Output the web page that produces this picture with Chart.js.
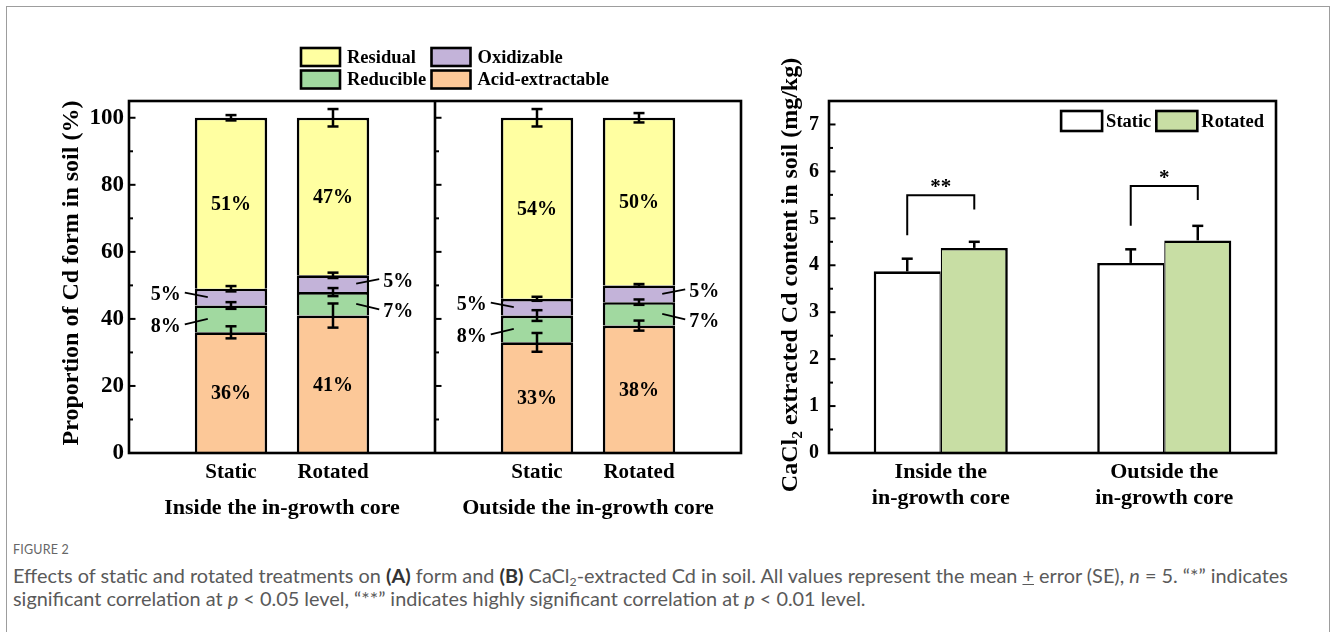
<!DOCTYPE html>
<html>
<head>
<meta charset="utf-8">
<script src="https://cdn.jsdelivr.net/npm/chart.js@4.4.1/dist/chart.umd.min.js"></script>
<style>
  html, body { margin: 0; padding: 0; background: #fff; width: 1330px; height: 632px; overflow: hidden; }
  #frame { position: absolute; left: 6px; top: 6px; width: 1324px; height: 700px; border: 1.5px solid #9d9d9d; box-sizing: border-box; }
  #cA { position: absolute; left: 0; top: 0; }
  #cB { position: absolute; left: 760px; top: 0; }
  #caption { position: absolute; left: 13px; top: 542px; color: #5a5a5a; font-family: Lato, 'Open Sans', sans-serif; white-space: nowrap; }
  #figno { font-size: 12.5px; letter-spacing: 0.2px; line-height: 16px; color: #666; }
  .line { font-size: 17px; line-height: 23px; }
  .line b { color: #333; }
  .line sub { font-size: 0.62em; vertical-align: -0.25em; line-height: 0; }
</style>
</head>
<body>
<div id="frame"></div>
<canvas id="cA" width="770" height="540"></canvas>
<canvas id="cB" width="570" height="540"></canvas>
<div id="caption">
  <div id="figno">FIGURE 2</div>
  <div class="line" id="l1" style="margin-top:6px">Effects of static and rotated treatments on <b>(A)</b> form and <b>(B)</b> CaCl<sub>2</sub>-extracted Cd in soil. All values represent the mean <u>+</u> error (SE), <i>n</i> = 5. “*” indicates</div>
  <div class="line" id="l2">significant correlation at <i>p</i> &lt; 0.05 level, “**” indicates highly significant correlation at <i>p</i> &lt; 0.01 level.</div>
</div>
<script>
// ---- Panel A: Cd fractions (% of total), order: Inside-Static, Inside-Rotated, Outside-Static, Outside-Rotated
const groups = ['Inside the in-growth core', 'Outside the in-growth core'];
const treatments = ['Static', 'Rotated'];
const acidExtractable = [36, 41, 33, 38];
const reducible = [8, 7, 8, 7];
const oxidizable = [5, 5, 5, 5];
const residual = [51, 47, 54, 50];
const acidSE = [1.8, 3.6, 2.8, 1.5];
const reducibleSE = [1.0, 1.2, 1.6, 0.8];
const oxidizableSE = [0.8, 0.8, 0.6, 0.4];
const residualSE = [0.8, 2.6, 2.6, 1.4];
const fractionTicks = [0, 20, 40, 60, 80, 100];

// ---- Panel B: CaCl2-extracted Cd (mg/kg)
const cdGroups = [['Inside the', 'in-growth core'], ['Outside the', 'in-growth core']];
const cdStatic = [3.87, 4.05];
const cdRotated = [4.37, 4.53];
const cdStaticSE = [0.27, 0.29];
const cdRotatedSE = [0.13, 0.31];
const cdTicks = [0, 1, 2, 3, 4, 5, 6, 7];
const significance = ['**', '*'];

const serif = "'Liberation Serif', 'Times New Roman', Times, serif";
const bold = size => `bold ${size}px ${serif}`;
const LW = 2.6;

// bars sit on slots 1,2 and 4,5 of a 0..6 category axis; slot 3 is the panel divider
const slots = [1, 2, 4, 5];
const slotLabels = ['', treatments[0], treatments[1], '', treatments[0], treatments[1], ''];
const spread = arr => { const out = new Array(7).fill(null); slots.forEach((s, i) => { out[s] = arr[i]; }); return out; };

const fractionSeries = [
  { label: 'Acid-extractable', values: acidExtractable, se: acidSE, color: '#FCC898' },
  { label: 'Reducible', values: reducible, se: reducibleSE, color: '#A1D9A0' },
  { label: 'Oxidizable', values: oxidizable, se: oxidizableSE, color: '#C3B3D9' },
  { label: 'Residual', values: residual, se: residualSE, color: '#FFFFA1' }
];

function line(ctx, x1, y1, x2, y2) { ctx.beginPath(); ctx.moveTo(x1, y1); ctx.lineTo(x2, y2); ctx.stroke(); }

function inwardTicks(ctx, x, ys, majors, minorStep, max) {
  ctx.lineWidth = 2;
  majors.forEach(v => { const y = ys.getPixelForValue(v); line(ctx, x, y, x + 6.5, y); });
  for (let v = minorStep; v < max; v += 2 * minorStep) {
    const y = ys.getPixelForValue(v); line(ctx, x, y, x + 4, y);
  }
}

function errorBar(ctx, x, yLow, yHigh) {
  ctx.lineWidth = 2.5;
  line(ctx, x, yLow, x, yHigh);
  line(ctx, x - 5.5, yLow, x + 5.5, yLow);
  line(ctx, x - 5.5, yHigh, x + 5.5, yHigh);
}

function legendBox(ctx, x, y, w, h, color) {
  ctx.fillStyle = color; ctx.fillRect(x, y, w, h);
  ctx.lineWidth = 2.6; ctx.strokeStyle = '#000'; ctx.strokeRect(x, y, w, h);
}

const fractionDecor = {
  id: 'fractionDecor',
  afterDatasetsDraw(chart) {
    const { ctx, chartArea: a } = chart;
    const xs = chart.scales.x, ys = chart.scales.y;
    ctx.save();
    ctx.strokeStyle = '#000'; ctx.fillStyle = '#000';

    // error bars at the top of every stacked segment
    fractionSeries.forEach((s, d) => {
      const meta = chart.getDatasetMeta(d);
      slots.forEach((slot, i) => {
        let cum = 0;
        for (let k = 0; k <= d; k++) cum += fractionSeries[k].values[i];
        const bar = meta.data[slot];
        errorBar(ctx, bar.x, ys.getPixelForValue(cum - s.se[i]), ys.getPixelForValue(cum + s.se[i]));
      });
    });

    // percentage labels
    ctx.font = bold(20);
    ctx.textBaseline = 'middle';
    fractionSeries.forEach((s, d) => {
      const meta = chart.getDatasetMeta(d);
      slots.forEach((slot, i) => {
        const bar = meta.data[slot];
        const cy = (bar.y + bar.base) / 2;
        const text = s.values[i] + '%';
        if (d === 0 || d === 3) {
          ctx.textAlign = 'center';
          ctx.fillText(text, bar.x, cy + 1.5);
        } else {
          const side = i % 2 === 0 ? -1 : 1;
          const edge = bar.x + side * bar.width / 2;
          const dy = d === 2 ? -3 : 7;
          ctx.lineWidth = 1.8;
          line(ctx, edge - side * 13, cy, edge + side * 10, cy + dy - 1.5);
          ctx.textAlign = side < 0 ? 'right' : 'left';
          ctx.fillText(text, edge + side * 14, cy + dy + 1);
        }
      });
    });

    // frame, panel divider and inward ticks
    ctx.lineWidth = LW;
    ctx.strokeRect(a.left, a.top, a.right - a.left, a.bottom - a.top);
    const xDiv = xs.getPixelForValue(3);
    line(ctx, xDiv, a.top, xDiv, a.bottom);
    inwardTicks(ctx, a.left, ys, fractionTicks, 10, 105);
    inwardTicks(ctx, xDiv, ys, fractionTicks, 10, 105);

    // group captions under each panel
    ctx.font = bold(22); ctx.textAlign = 'center'; ctx.textBaseline = 'middle';
    const m0 = chart.getDatasetMeta(0).data;
    ctx.fillText(groups[0], (m0[slots[0]].x + m0[slots[1]].x) / 2, 508);
    ctx.fillText(groups[1], (m0[slots[2]].x + m0[slots[3]].x) / 2, 508);

    // y title
    ctx.save();
    ctx.translate(72, 273); ctx.rotate(-Math.PI / 2);
    ctx.font = bold(24); ctx.fillText('Proportion of Cd form in soil (%)', 0, 0);
    ctx.restore();

    // legend, two rows
    const order = [[3, 2], [1, 0]];
    ctx.font = bold(18.5); ctx.textAlign = 'left'; ctx.textBaseline = 'middle';
    order.forEach((row, r) => row.forEach((d, c) => {
      const x = 301 + c * 130.5, y = 48 + r * 22.5;
      legendBox(ctx, x, y, 39, 18, fractionSeries[d].color);
      ctx.fillStyle = '#000';
      ctx.fillText(fractionSeries[d].label, x + 46, y + 10);
    }));
    ctx.restore();
  }
};

new Chart(document.getElementById('cA'), {
  type: 'bar',
  data: {
    labels: slotLabels,
    datasets: fractionSeries.map(s => ({
      label: s.label, data: spread(s.values), backgroundColor: s.color,
      borderColor: '#000', borderWidth: 2.6, borderSkipped: 'start',
      categoryPercentage: 1, barPercentage: 0.71
    }))
  },
  options: {
    responsive: false, animation: false,
    layout: { padding: { left: 0, right: 29, top: 101, bottom: 0 } },
    plugins: { legend: { display: false }, tooltip: { enabled: false } },
    scales: {
      x: {
        stacked: true, offset: false,
        grid: { display: false, drawTicks: false }, border: { display: false },
        ticks: { font: { family: serif, size: 21, weight: 'bold' }, color: '#000', padding: 7, maxRotation: 0, autoSkip: false },
        afterFit: s => { s.height = 87; }
      },
      y: {
        stacked: true, min: 0, max: 105,
        grid: { display: false, drawTicks: false }, border: { display: false },
        ticks: { font: { family: serif, size: 23, weight: 'bold' }, color: '#000', padding: 5 },
        afterBuildTicks: s => { s.ticks = fractionTicks.map(v => ({ value: v })); },
        afterFit: s => { s.width = 129; }
      }
    }
  },
  plugins: [fractionDecor]
});

// ---- Panel B
const cdSeries = [
  { label: 'Static', values: cdStatic, se: cdStaticSE, color: '#FFFFFF', border: { top: 2.6, left: 2.6, right: 1.3, bottom: 0 } },
  { label: 'Rotated', values: cdRotated, se: cdRotatedSE, color: '#C8DEA4', border: { top: 2.6, left: 1.3, right: 2.6, bottom: 0 } }
];

const cdDecor = {
  id: 'cdDecor',
  afterDatasetsDraw(chart) {
    const { ctx, chartArea: a } = chart;
    const ys = chart.scales.y;
    ctx.save();
    ctx.strokeStyle = '#000'; ctx.fillStyle = '#000';

    // one-sided error bars
    cdSeries.forEach((s, d) => {
      chart.getDatasetMeta(d).data.forEach((bar, i) => {
        const yTop = ys.getPixelForValue(s.values[i] + s.se[i]);
        ctx.lineWidth = 2.5;
        line(ctx, bar.x, bar.y, bar.x, yTop);
        line(ctx, bar.x - 5.5, yTop, bar.x + 5.5, yTop);
      });
    });

    // significance brackets
    const st = chart.getDatasetMeta(0).data, ro = chart.getDatasetMeta(1).data;
    significance.forEach((mark, i) => {
      const leftBase = cdStatic[i] + cdStaticSE[i] + 0.5;
      const top = Math.max(cdRotated[i] + cdRotatedSE[i] + 0.85, leftBase + 0.85);
      const rightBase = top - 0.3;
      const yT = ys.getPixelForValue(top);
      ctx.lineWidth = 2;
      ctx.beginPath();
      ctx.moveTo(st[i].x, ys.getPixelForValue(leftBase));
      ctx.lineTo(st[i].x, yT);
      ctx.lineTo(ro[i].x, yT);
      ctx.lineTo(ro[i].x, ys.getPixelForValue(rightBase));
      ctx.stroke();
      ctx.font = bold(21); ctx.textAlign = 'center'; ctx.textBaseline = 'alphabetic';
      ctx.fillText(mark, (st[i].x + ro[i].x) / 2, yT - 2);
    });

    // frame and inward ticks
    ctx.lineWidth = LW;
    ctx.strokeRect(a.left, a.top, a.right - a.left, a.bottom - a.top);
    inwardTicks(ctx, a.left, ys, cdTicks, 0.5, 7.5);

    // legend, right-aligned in the top corner
    ctx.font = bold(18.5); ctx.textBaseline = 'middle'; ctx.textAlign = 'left';
    const widths = cdSeries.map(s => ctx.measureText(s.label).width);
    let x = a.right - 12 - (41 + 4 + widths[0] + 5 + 41 + 4 + widths[1]);
    cdSeries.forEach((s, d) => {
      legendBox(ctx, x, 111, 41, 20, s.color);
      ctx.fillStyle = '#000';
      ctx.fillText(s.label, x + 45, 122);
      x += 41 + 4 + widths[d] + 5;
    });

    // y title with subscript
    ctx.save();
    ctx.translate(29, 275); ctx.rotate(-Math.PI / 2);
    const parts = [['CaCl', 24, 0], ['2', 15.5, 5], [' extracted Cd content in soil (mg/kg)', 24, 0]];
    let total = 0;
    parts.forEach(p => { ctx.font = bold(p[1]); total += ctx.measureText(p[0]).width; });
    let tx = -total / 2;
    ctx.textAlign = 'left'; ctx.textBaseline = 'alphabetic';
    parts.forEach(p => { ctx.font = bold(p[1]); ctx.fillText(p[0], tx, 8 + p[2]); tx += ctx.measureText(p[0]).width; });
    ctx.restore();
    ctx.restore();
  }
};

new Chart(document.getElementById('cB'), {
  type: 'bar',
  data: {
    labels: cdGroups,
    datasets: cdSeries.map(s => ({
      label: s.label, data: s.values, backgroundColor: s.color,
      borderColor: '#000', borderWidth: s.border, borderSkipped: 'start',
      categoryPercentage: 0.6, barPercentage: 1
    }))
  },
  options: {
    responsive: false, animation: false,
    layout: { padding: { left: 0, right: 54, top: 101, bottom: 0 } },
    plugins: { legend: { display: false }, tooltip: { enabled: false } },
    scales: {
      x: {
        grid: { display: false, drawTicks: false }, border: { display: false },
        ticks: { font: { family: serif, size: 22, weight: 'bold', lineHeight: 1.2 }, color: '#000', padding: 6, maxRotation: 0, autoSkip: false },
        afterFit: s => { s.height = 87; }
      },
      y: {
        min: 0, max: 7.5,
        grid: { display: false, drawTicks: false }, border: { display: false },
        ticks: { font: { family: serif, size: 20, weight: 'bold' }, color: '#000', padding: 10 },
        afterBuildTicks: s => { s.ticks = cdTicks.map(v => ({ value: v })); },
        afterFit: s => { s.width = 69; }
      }
    }
  },
  plugins: [cdDecor]
});

// caption: fit the first line to the text block width
(function fitCaption() {
  const l1 = document.getElementById('l1'), l2 = document.getElementById('l2');
  const w = l1.getBoundingClientRect().width;
  const size = 17 * 1276 / w;
  l1.style.fontSize = size + 'px';
  l2.style.fontSize = size + 'px';
})();
</script>
</body>
</html>
